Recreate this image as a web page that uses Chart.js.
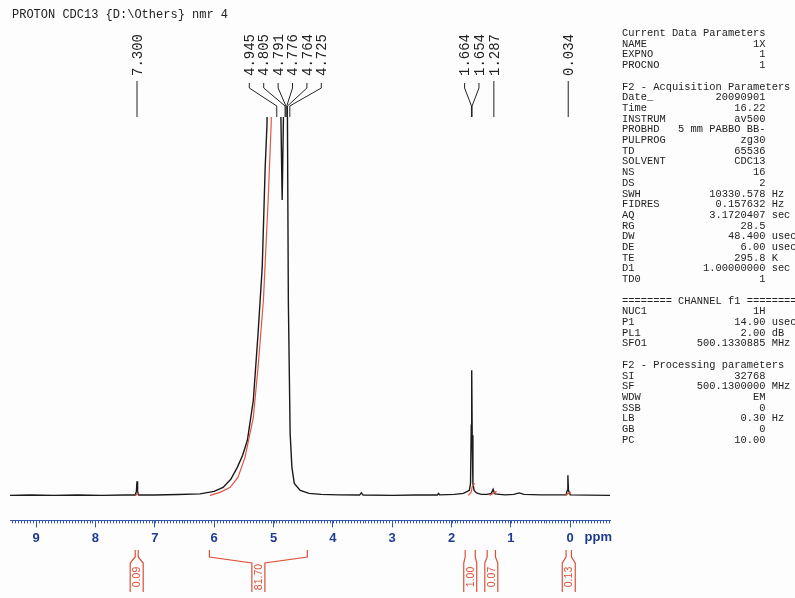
<!DOCTYPE html>
<html>
<head>
<meta charset="utf-8">
<script src="https://cdn.jsdelivr.net/npm/chart.js@4.4.0/dist/chart.umd.min.js"></script>
<style>
  body { margin:0; background:#fdfdfd; overflow:hidden; width:795px; height:598px; position:relative; }
  #nmr { position:absolute; left:0; top:0; }
  #title { position:absolute; left:12px; top:8px; font:12px "Liberation Mono", monospace; line-height:14px; color:#222; white-space:pre; }
  #params { position:absolute; left:622px; top:28px; margin:0; font:10.4px "Liberation Mono", monospace; line-height:10.7px; color:#222; white-space:pre; }
</style>
</head>
<body>
<canvas id="nmr" width="795" height="598"></canvas>
<div id="title">PROTON CDC13 {D:\Others} nmr 4</div>
<pre id="params"></pre>
<script>
"use strict";

// spectrum (ppm, intensity)
const specPpm = [9.44, 9.10, 8.70, 8.30, 7.90, 7.50, 7.33, 7.31, 7.30, 7.29, 7.27, 7.00, 6.60, 6.24, 6.00,
  5.85, 5.72, 5.61, 5.52, 5.44, 5.34, 5.26, 5.19, 5.14, 5.11, 5.07, 5.00, 4.945, 4.90, 4.876, 4.854,
  4.832, 4.805, 4.79, 4.776, 4.765, 4.75, 4.72, 4.69, 4.65, 4.55, 4.40, 4.20, 3.90, 3.55, 3.52, 3.49,
  3.00, 2.60, 2.24, 2.22, 2.20, 1.95, 1.80, 1.70, 1.68, 1.668, 1.66, 1.652, 1.64, 1.62, 1.58, 1.50,
  1.40, 1.33, 1.30, 1.27, 1.10, 0.95, 0.86, 0.78, 0.50, 0.10, 0.07, 0.05, 0.04, 0.03, 0.00, -0.30, -0.67];
const specInt = [0, 0.4, 0, 0.4, 0, 0.3, 0.3, 4, 14, 4, 0.3, 0.3, 0.8, 1.5, 4,
  8, 16, 28, 40, 55, 95, 162, 228, 328, 370, 520, 800, 1000, 700, 380, 295,
  380, 900, 950, 900, 375, 195, 62, 28, 12, 5, 2, 1, 0.5, 0.3, 2.5, 0.3,
  0, 0.3, 0.3, 2, 0.5, 1, 2, 5, 12, 70, 125, 60, 12, 5, 2.5, 1,
  1, 2, 6, 1.5, 0.5, 1, 2.5, 1, 0.5, 0.5, 0.5, 5, 20, 5, 0.5, 0.2, 0];

// integral curves (red)
const intMainPpm = [6.07, 5.90, 5.73, 5.60, 5.48, 5.34, 5.26, 5.17, 5.09, 5.04, 5.00];
const intMainVal = [0, 3, 8, 18, 38, 78, 128, 195, 295, 370, 480];
const int730Ppm = [7.33, 7.27];
const int730Val = [0, 2];
const int166Ppm = [1.72, 1.67, 1.65, 1.61];
const int166Val = [0, 3, 9, 12];
const int129Ppm = [1.36, 1.30, 1.24];
const int129Val = [0, 2, 4];
const int003Ppm = [0.08, 0.04, -0.01];
const int003Val = [0, 1.5, 3];

// integral regions below the axis
const integralFrom = [7.33, 6.08, 1.77, 1.40, 0.07];
const integralTo = [7.28, 4.43, 1.60, 1.26, -0.02];
const integralText = ["0.09", "81.70", "1.00", "0.07", "0.13"];

// peak picking labels
const peakGroups = [[7.300], [4.945, 4.805, 4.791, 4.776, 4.764, 4.725], [1.664, 1.654], [1.287], [0.034]];

const paramRows = [
  ["Current Data Parameters"], ["NAME", "1X"], ["EXPNO", "1"], ["PROCNO", "1"], [""],
  ["F2 - Acquisition Parameters"], ["Date_", "20090901"], ["Time", "16.22"], ["INSTRUM", "av500"],
  ["PROBHD", "5 mm PABBO BB-"], ["PULPROG", "zg30"], ["TD", "65536"], ["SOLVENT", "CDC13"],
  ["NS", "16"], ["DS", "2"], ["SWH", "10330.578", "Hz"], ["FIDRES", "0.157632", "Hz"],
  ["AQ", "3.1720407", "sec"], ["RG", "28.5"], ["DW", "48.400", "usec"], ["DE", "6.00", "usec"],
  ["TE", "295.8", "K"], ["D1", "1.00000000", "sec"], ["TD0", "1"], [""],
  ["======== CHANNEL f1 ========"], ["NUC1", "1H"], ["P1", "14.90", "usec"], ["PL1", "2.00", "dB"],
  ["SFO1", "500.1330885", "MHz"], [""],
  ["F2 - Processing parameters"], ["SI", "32768"], ["SF", "500.1300000", "MHz"], ["WDW", "EM"],
  ["SSB", "0"], ["LB", "0.30", "Hz"], ["GB", "0"], ["PC", "10.00"]
];

document.getElementById("params").textContent = paramRows.map(function (r) {
  if (r.length < 2) return r[0];
  let s = r[0] + " ".repeat(Math.max(1, 23 - r[0].length - r[1].length)) + r[1];
  if (r[2]) s += " " + r[2];
  return s;
}).join("\n");

function pts(xs, ys) {
  return xs.map(function (x, i) { return { x: x, y: ys[i] }; });
}

const blue = "#1f3a93";
const red = "#d9503a";

const decor = {
  id: "decor",
  afterDraw(chart) {
    const ctx = chart.ctx;
    const xs = chart.scales.x;
    const area = chart.chartArea;
    ctx.save();

    // minor ticks
    ctx.strokeStyle = "#3557b0";
    ctx.lineWidth = 1;
    ctx.beginPath();
    for (let k = -13; k <= 188; k++) {
      const px = Math.round(xs.getPixelForValue(k * 0.05)) + 0.5;
      ctx.moveTo(px, area.bottom);
      ctx.lineTo(px, area.bottom + 3);
    }
    ctx.stroke();

    // ppm unit
    ctx.fillStyle = blue;
    ctx.font = "bold 13px 'Liberation Sans', Arial";
    ctx.textAlign = "center";
    ctx.textBaseline = "middle";
    ctx.fillText("ppm", xs.getPixelForValue(0) + 28, 537);

    // peak labels
    ctx.strokeStyle = "#222";
    ctx.fillStyle = "#222";
    ctx.font = "14px 'Liberation Mono', monospace";
    peakGroups.forEach(function (g) {
      const pxs = g.map(function (v) { return xs.getPixelForValue(v); });
      const mean = pxs.reduce(function (a, b) { return a + b; }, 0) / pxs.length;
      g.forEach(function (v, i) {
        const lx = g.length > 1 ? mean + (i - (g.length - 1) / 2) * 14.4 : pxs[i];
        ctx.save();
        ctx.translate(lx, 76);
        ctx.rotate(-Math.PI / 2);
        ctx.textAlign = "left";
        ctx.textBaseline = "middle";
        ctx.fillText(v.toFixed(3), 0, 1);
        ctx.restore();
        ctx.beginPath();
        if (g.length > 1) {
          ctx.moveTo(lx, 83);
          ctx.lineTo(lx, 88);
          ctx.lineTo(pxs[i], 106);
          ctx.lineTo(pxs[i], area.top);
        } else {
          ctx.moveTo(lx, 81);
          ctx.lineTo(lx, area.top);
        }
        ctx.stroke();
      });
    });

    // integral brackets
    ctx.strokeStyle = red;
    ctx.fillStyle = red;
    ctx.lineWidth = 1.2;
    ctx.font = "10.5px 'Liberation Sans', Arial";
    integralFrom.forEach(function (f, i) {
      const x1 = xs.getPixelForValue(f);
      const x2 = xs.getPixelForValue(integralTo[i]);
      const cx = (x1 + x2) / 2;
      const hw = 6.5;
      ctx.beginPath();
      ctx.moveTo(x1, 550); ctx.lineTo(x1, 557); ctx.lineTo(cx - hw, 563); ctx.lineTo(cx - hw, 592);
      ctx.moveTo(x2, 550); ctx.lineTo(x2, 557); ctx.lineTo(cx + hw, 563); ctx.lineTo(cx + hw, 592);
      ctx.stroke();
      ctx.save();
      ctx.translate(cx, 577);
      ctx.rotate(-Math.PI / 2);
      ctx.textAlign = "center";
      ctx.textBaseline = "middle";
      ctx.fillText(integralText[i], 0, 0.5);
      ctx.restore();
    });
    ctx.restore();
  }
};

function redSet(xs, ys) {
  return { data: pts(xs, ys), borderColor: "#e2553f", borderWidth: 1.2, pointRadius: 0 };
}

new Chart(document.getElementById("nmr"), {
  type: "line",
  data: {
    datasets: [
      redSet(intMainPpm, intMainVal),
      redSet(int730Ppm, int730Val),
      redSet(int166Ppm, int166Val),
      redSet(int129Ppm, int129Val),
      redSet(int003Ppm, int003Val),
      { data: pts(specPpm, specInt), borderColor: "#1a1a1a", borderWidth: 1.4, pointRadius: 0 }
    ]
  },
  options: {
    responsive: false,
    animation: false,
    devicePixelRatio: 1,
    layout: { padding: { top: 117, left: 10, right: 185, bottom: 49 } },
    plugins: { legend: { display: false }, tooltip: { enabled: false } },
    scales: {
      x: {
        type: "linear",
        reverse: true,
        min: -0.67,
        max: 9.44,
        border: { color: "#3557b0", width: 1 },
        grid: { drawOnChartArea: false, drawTicks: true, tickLength: 7, color: "#3557b0" },
        ticks: {
          stepSize: 1,
          includeBounds: false,
          maxRotation: 0,
          padding: 3,
          color: blue,
          font: { family: "'Liberation Sans', Arial", size: 13, weight: "bold" },
          callback: function (v) { return String(v); }
        }
      },
      y: { display: false, min: -25, max: 378 }
    }
  },
  plugins: [decor]
});
</script>
</body>
</html>
